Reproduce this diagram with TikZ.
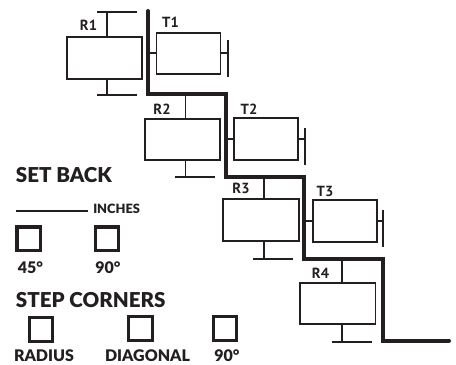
\documentclass[tikz,border=0pt]{standalone}
\usepackage{fontspec}
\setmainfont{Lato}[BoldFont={* Black}]
\newfontfamily\lblfont{PT Sans}[BoldFont={* Bold}]
\definecolor{ink}{HTML}{231F20}
\tikzset{
  room/.style={draw=ink,line width=1.4pt,minimum width=56.5pt,minimum height=31pt,inner sep=0pt,outer sep=0pt},
  tbox/.style={draw=ink,line width=1.4pt,minimum width=48pt,minimum height=31pt,inner sep=0pt,outer sep=0pt},
  lbl/.style={font=\lblfont\bfseries\fontsize{11}{12}\selectfont,text=ink,inner sep=0pt},
  stem/.style={draw=ink,line width=1.3pt},
  wall/.style={draw=ink,line width=3pt,line join=miter,line cap=round},
  check/.style={draw=ink,line width=2.4pt,minimum size=17.5pt,inner sep=0pt,outer sep=0pt},
  head/.style={font=\bfseries\fontsize{15.4}{16}\selectfont,text=ink,inner sep=0pt,anchor=west},
  capt/.style={font=\bfseries\fontsize{12}{13}\selectfont,text=ink,inner sep=0pt},
}
\begin{document}
\begin{tikzpicture}[x=0.75pt,y=-0.75pt]
\useasboundingbox (0,0) rectangle (456,364);
% rooms
\node[room] (r1) at (104.3,58) {};
\node[room] (r2) at (182.5,139.5) {};
\node[room] (r3) at (261,220) {};
\node[room] (r4) at (337.8,303.7) {};
\node[tbox] (t1) at (188.5,53.3) {};
\node[tbox] (t2) at (266,139) {};
\node[tbox] (t3) at (345,221) {};
% labels
\node[lbl] (lr1) at (88.5,25.5) {R1};
\node[lbl] (lt1) at (170.5,22) {T1};
\node[lbl] (lr2) at (162,109) {R2};
\node[lbl] (lt2) at (249,109.5) {T2};
\node[lbl] (lr3) at (241,188.5) {R3};
\node[lbl] (lt3) at (325,191) {T3};
\node[lbl] (lr4) at (320.5,273) {R4};
% wall
\coordinate (w0) at (148,11);
\coordinate (w1) at (148,94);
\coordinate (w2) at (226,94);
\coordinate (w3) at (226,176.7);
\coordinate (w4) at (304.3,176.7);
\coordinate (w5) at (304.3,258.5);
\coordinate (w6) at (382.5,258.5);
\coordinate (w7) at (382.5,340.7);
\coordinate (w8) at (449,340.7);
\draw[wall] (w0) -- (w1) -- (w2) -- (w3) -- (w4) -- (w5) -- (w6) -- (w7) -- (w8);
% room stems
\draw[stem] (107,36.7) -- (107,12);
\draw[stem] (97,12) -- (137,12);
\draw[stem] (107,79.3) -- (107,94.7);
\draw[stem] (97,94.7) -- (137,94.7);
\draw[stem] (185.5,94) -- (185.5,118);
\draw[stem] (185.5,161) -- (185.5,176.7);
\draw[stem] (175,176.7) -- (215,176.7);
\draw[stem] (263.7,176.7) -- (263.7,198.7);
\draw[stem] (263.7,241) -- (263.7,258.7);
\draw[stem] (253,258.7) -- (293,258.7);
\draw[stem] (341.7,258.5) -- (341.7,282);
\draw[stem] (341.7,325) -- (341.7,341.7);
\draw[stem] (331.5,341.7) -- (371.5,341.7);
% T stubs
\draw[stem] (t1.west) -- ++(-8,0);
\draw[stem] (t1.east) -- ++(7,0);
\draw[stem] (228,40) -- (228,77);
\draw[stem] (t2.west) -- ++(-7,0);
\draw[stem] (t2.east) -- ++(6,0);
\draw[stem] (304.7,128) -- (304.7,165);
\draw[stem] (t3.west) -- ++(-8,0);
\draw[stem] (t3.east) -- ++(6,0);
\draw[stem] (383,210) -- (383,247);
% left panel
\node[head] (sb) at (15.7,175) {SET BACK};
\coordinate (ln0) at (15.7,211);
\coordinate (ln1) at (88.3,211);
\draw[draw=ink,line width=1.1pt] (ln0) -- (ln1);
\node[capt,anchor=west,font=\bfseries\fontsize{9.6}{10}\selectfont] (inch) at (93,208.7) {INCHES};
\node[check] (c1) at (28.7,238.7) {};
\node[check] (c2) at (107,238.7) {};
\node[capt] (c1l) at (30.5,267.5) {45°};
\node[capt] (c2l) at (108,267.5) {90°};
\node[head] (sc) at (15.7,300.5) {STEP CORNERS};
\node[check] (c3) at (41,329.5) {};
\node[check] (c4) at (140.5,328.5) {};
\node[check] (c5) at (225,328.5) {};
\node[capt] (c3l) at (44,355.5) {RADIUS};
\node[capt] (c4l) at (147.5,355.5) {DIAGONAL};
\node[capt] (c5l) at (227,355.5) {90°};
\end{tikzpicture}
\end{document}
